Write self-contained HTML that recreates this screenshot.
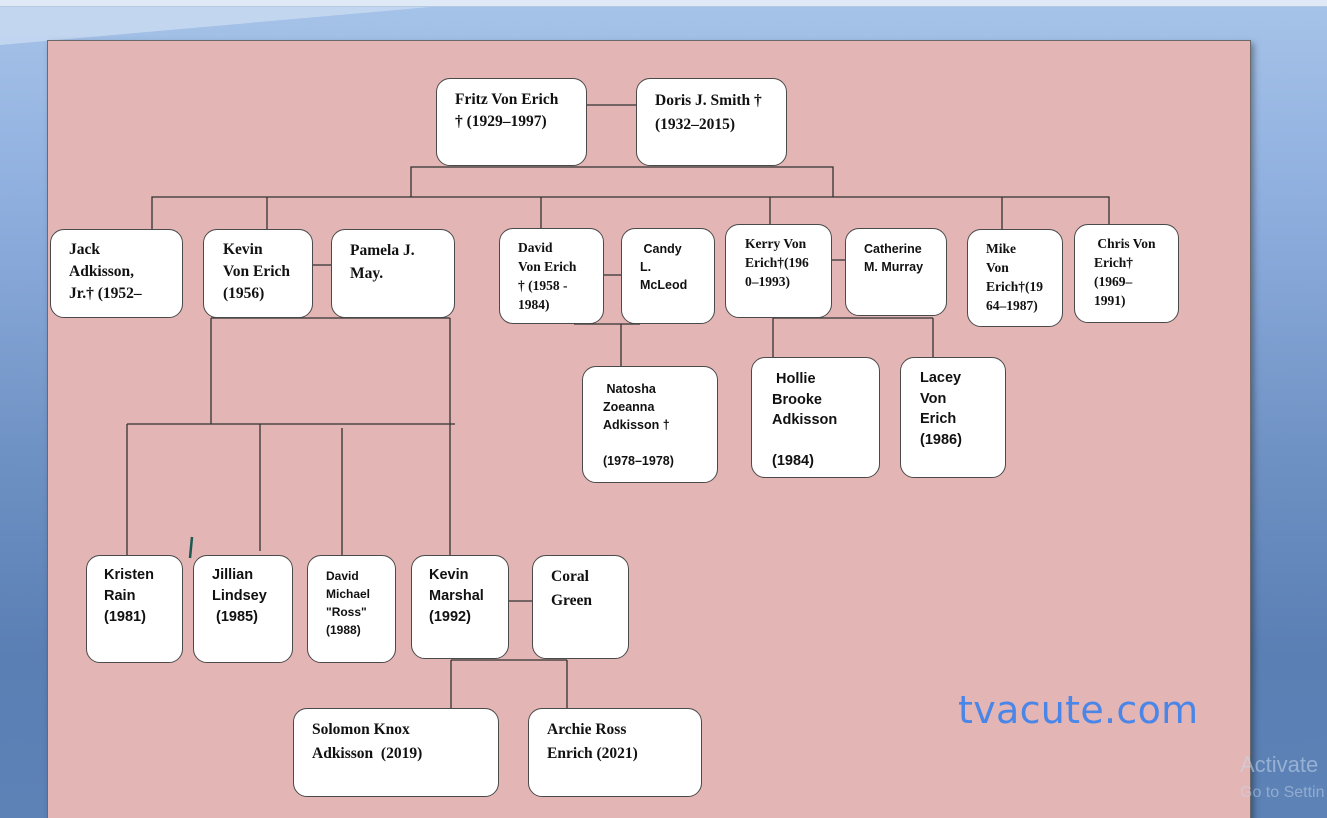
<!DOCTYPE html>
<html><head><meta charset="utf-8"><style>
html,body{margin:0;padding:0;width:1327px;height:818px;overflow:hidden}
body{background:linear-gradient(180deg,#a6c3e8 0%,#8eaede 25%,#6f92c4 55%,#5a7fb4 80%,#5c82b6 100%);position:relative;font-family:"Liberation Serif",serif}
.top{position:absolute;left:0;top:0;width:1327px;height:6px;background:#dfeaf6;border-bottom:1px solid #b5c9e2}
.shine{position:absolute;left:0;top:7px;width:0;height:0;border-top:38px solid rgba(220,232,248,.55);border-right:430px solid transparent}
.page{position:absolute;left:47px;top:40px;width:1202px;height:790px;background:#e3b5b5;border:1px solid #6a6a6a;box-shadow:3px 3px 6px rgba(0,0,0,.35)}
.b{position:absolute;background:#fff;border:1.4px solid #4a4a4a;border-radius:14px;box-sizing:border-box;font-weight:bold;color:#111}
.s{font-family:"Liberation Sans",sans-serif}
.b div{position:absolute}
svg{position:absolute;left:0;top:0}
</style></head><body>
<div class="top"></div>
<div class="shine"></div>
<div class="page"></div>
<svg width="1327" height="818"><g stroke="#333" stroke-width="1.3" fill="none">
<path d="M587 105H636"/>
<path d="M411 197V167H833V197"/>
<path d="M152 229V197H1109V224M267 197V229M541 197V228M770 197V224M1002 197V229"/>
<path d="M313 265H331"/>
<path d="M211 318H450M211 318V424M450 318V555M127 424H455M127 424V555M260 424V551M342 428V555"/>
<path d="M604 275H621M574 324H640M621 324V366"/>
<path d="M832 260H845M773 318H933M773 318V357M933 318V357"/>
<path d="M509 601H532M451 660H567M451 660V708M567 660V708"/>
</g>
<path d="M192 537L190 558" stroke="#1a5a50" stroke-width="2.5"/>
</svg>
<div class="b" style="left:436px;top:78px;width:151px;height:88px"><div style="left:18px;top:10px;font-size:15.5px;line-height:22px">Fritz Von Erich<br>† (1929–1997)</div></div>
<div class="b" style="left:636px;top:78px;width:151px;height:88px"><div style="left:18px;top:10px;font-size:15.5px;line-height:24px">Doris J. Smith †<br>(1932–2015)</div></div>
<div class="b" style="left:50px;top:229px;width:133px;height:89px"><div style="left:18px;top:9px;font-size:15.5px;line-height:22px">Jack<br>Adkisson,<br>Jr.† (1952–</div></div>
<div class="b" style="left:203px;top:229px;width:110px;height:89px"><div style="left:19px;top:9px;font-size:15.5px;line-height:22px">Kevin<br>Von Erich<br>(1956)</div></div>
<div class="b" style="left:331px;top:229px;width:124px;height:89px"><div style="left:18px;top:9px;font-size:15.5px;line-height:23px">Pamela J.<br>May.</div></div>
<div class="b" style="left:499px;top:228px;width:105px;height:96px"><div style="left:18px;top:9px;font-size:13.5px;line-height:19px">David<br>Von Erich<br>† (1958 -<br>1984)</div></div>
<div class="b s" style="left:621px;top:228px;width:94px;height:96px"><div style="left:18px;top:11px;font-size:12.5px;line-height:18px">&nbsp;Candy<br>L.<br>McLeod</div></div>
<div class="b" style="left:725px;top:224px;width:107px;height:94px"><div style="left:19px;top:9px;font-size:13.5px;line-height:19px">Kerry Von<br>Erich†(196<br>0–1993)</div></div>
<div class="b s" style="left:845px;top:228px;width:102px;height:88px"><div style="left:18px;top:11px;font-size:12.5px;line-height:18px">Catherine<br>M. Murray</div></div>
<div class="b" style="left:967px;top:229px;width:96px;height:98px"><div style="left:18px;top:9px;font-size:13.5px;line-height:19px">Mike<br>Von<br>Erich†(19<br>64–1987)</div></div>
<div class="b" style="left:1074px;top:224px;width:105px;height:99px"><div style="left:19px;top:9px;font-size:13.5px;line-height:19px">&nbsp;Chris Von<br>Erich†<br>(1969–<br>1991)</div></div>
<div class="b s" style="left:582px;top:366px;width:136px;height:117px"><div style="left:20px;top:13px;font-size:12.5px;line-height:18px">&nbsp;Natosha<br>Zoeanna<br>Adkisson †<br><br>(1978–1978)</div></div>
<div class="b s" style="left:751px;top:357px;width:129px;height:121px"><div style="left:20px;top:11px;font-size:14.5px;line-height:20.5px">&nbsp;Hollie<br>Brooke<br>Adkisson<br><br>(1984)</div></div>
<div class="b s" style="left:900px;top:357px;width:106px;height:121px"><div style="left:19px;top:10px;font-size:14.5px;line-height:20.5px">Lacey<br>Von<br>Erich<br>(1986)</div></div>
<div class="b s" style="left:86px;top:555px;width:97px;height:108px"><div style="left:17px;top:9px;font-size:14.5px;line-height:21px">Kristen<br>Rain<br>(1981)</div></div>
<div class="b s" style="left:193px;top:555px;width:100px;height:108px"><div style="left:18px;top:9px;font-size:14.5px;line-height:21px">Jillian<br>Lindsey<br>&nbsp;(1985)</div></div>
<div class="b s" style="left:307px;top:555px;width:89px;height:108px"><div style="left:18px;top:11px;font-size:12px;line-height:18px">David<br>Michael<br>"Ross"<br>(1988)</div></div>
<div class="b s" style="left:411px;top:555px;width:98px;height:104px"><div style="left:17px;top:9px;font-size:14.5px;line-height:21px">Kevin<br>Marshal<br>(1992)</div></div>
<div class="b" style="left:532px;top:555px;width:97px;height:104px"><div style="left:18px;top:9px;font-size:15.5px;line-height:24px">Coral<br>Green</div></div>
<div class="b" style="left:293px;top:708px;width:206px;height:89px"><div style="left:18px;top:9px;font-size:15.5px;line-height:24px">Solomon Knox<br>Adkisson&nbsp; (2019)</div></div>
<div class="b" style="left:528px;top:708px;width:174px;height:89px"><div style="left:18px;top:9px;font-size:15.5px;line-height:24px">Archie Ross<br>Enrich (2021)</div></div>
<div style="position:absolute;left:958px;top:688px;font-family:'DejaVu Sans','Liberation Sans',sans-serif;font-size:38px;color:#4a86e8;letter-spacing:0.3px">tvacute.com</div>
<div style="position:absolute;left:1240px;top:752px;font-family:'Liberation Sans',sans-serif;font-size:22px;color:rgba(200,215,235,.55)">Activate</div>
<div style="position:absolute;left:1240px;top:784px;font-family:'Liberation Sans',sans-serif;font-size:16px;color:rgba(200,215,235,.5)">Go to Settin</div>
</body></html>
